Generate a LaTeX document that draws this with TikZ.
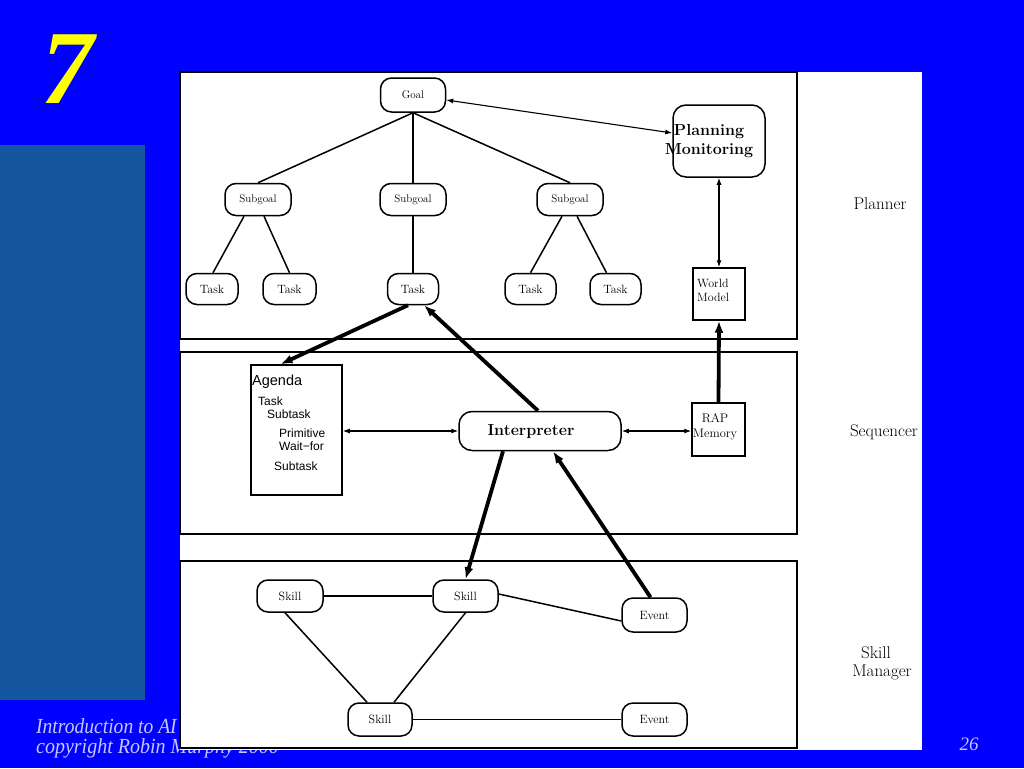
\documentclass[tikz,border=0pt]{standalone}
\usepackage{fontspec}
\newfontfamily\sansf{Liberation Sans}
\newfontfamily\timesf{Liberation Serif}
\usetikzlibrary{arrows.meta,calc}
\definecolor{bgblue}{HTML}{0000FF}
\definecolor{sideblue}{HTML}{1456A0}
\definecolor{footc}{HTML}{C6C6FF}
\definecolor{sevenc}{HTML}{FFFF00}
\newcommand{\fs}[1]{\fontsize{#1}{#1}\selectfont}
\begin{document}
\begin{tikzpicture}[x=1pt,y=-1pt,
  rbox/.style={draw, line width=1.5pt, rounded corners=11pt, fill=white, inner sep=0pt},
  sbox/.style={draw, line width=1.5pt, fill=white, inner sep=0pt},
  panelline/.style={draw, line width=1.3pt},
  tl/.style={line width=1.5pt},
  dbl/.style={line width=1.1pt, {Latex[length=7pt,width=5pt]}-{Latex[length=7pt,width=5pt]}},
  fat/.style={line width=3.8pt, -{Latex[length=12pt,width=9pt]}},
  small/.style={font=\fs{11}},
  med/.style={font=\fs{12}},
  big/.style={font=\fs{17}},
  bigb/.style={font=\fs{16}\bfseries},
  agt/.style={font=\sansf\fs{12}, anchor=base west, inner sep=0pt},
  foot/.style={font=\timesf\itshape\fs{21.5}, text=footc, anchor=base west, inner sep=0pt}
]
\useasboundingbox (0,0) rectangle (1024,768);
\fill[bgblue] (0,0) rectangle (1024,768);
\fill[sideblue] (0,145) rectangle (145,700);
\node[font=\timesf\bfseries\itshape\fs{105}, text=sevenc, inner sep=0pt] (seven) at (68,69) {7};
\node[foot] (foot1) at (36,733) {\scalebox{0.91}[1]{Introduction to AI Robotics}};
\node[foot] (foot2) at (36,753) {\scalebox{0.93}[1]{copyright Robin Murphy 2000}};
\node[font=\timesf\itshape\fs{19}, text=footc, inner sep=0pt] (pg) at (969,744) {26};
% white picture area
\fill[white] (180,72) rectangle (922,750);
\draw[panelline] (180,72) rectangle (797,339);
\draw[panelline] (180,352) rectangle (797,534);
\draw[panelline] (180,561) rectangle (797,748);
% planner
\node[rbox, small, minimum width=65pt, minimum height=34pt] (goal) at (413,95) {Goal};
\node[rbox, rounded corners=13pt, minimum width=92pt, minimum height=72pt] (plan) at (719,141) {};
\node[bigb, align=center, inner sep=0pt] (plantext) at (709,141.5) {Planning\\[3pt]Monitoring};
\node[rbox, small, minimum width=66pt, minimum height=32pt] (sg1) at (258,199.5) {Subgoal};
\node[rbox, small, minimum width=66pt, minimum height=32pt] (sg2) at (413,199.5) {Subgoal};
\node[rbox, small, minimum width=66pt, minimum height=32pt] (sg3) at (570,199.5) {Subgoal};
\node[rbox, med, minimum width=52pt, minimum height=31pt] (t1) at (212,289) {Task};
\node[rbox, med, minimum width=53pt, minimum height=31pt] (t2) at (289.5,289) {Task};
\node[rbox, med, minimum width=51pt, minimum height=31pt] (t3) at (413,289) {Task};
\node[rbox, med, minimum width=51pt, minimum height=31pt] (t4) at (530.5,289) {Task};
\node[rbox, med, minimum width=51pt, minimum height=31pt] (t5) at (615.5,289) {Task};
\node[sbox, minimum width=52pt, minimum height=52pt] (wm) at (719,294) {};
\node[med, align=left, anchor=west, inner sep=0pt] (wmtext) at (697,290.5) {World\\[2pt]Model};
\node[big, inner sep=0pt] (lplanner) at (880,204) {Planner};
% sequencer
\node[sbox, minimum width=91pt, minimum height=130pt] (agenda) at (296.5,430) {};
\node[agt, font=\sansf\fs{14.5}] (ag0) at (252,385) {Agenda};
\node[agt] (ag1) at (258,405) {Task};
\node[agt] (ag2) at (267,418) {Subtask};
\node[agt] (ag3) at (279,437) {Primitive};
\node[agt] (ag4) at (279,450) {Wait−for};
\node[agt] (ag5) at (274,470) {Subtask};
\node[rbox, rounded corners=13pt, minimum width=162pt, minimum height=39pt] (interp) at (540,431) {};
\node[bigb, inner sep=0pt] (interptext) at (531,432) {Interpreter};
\node[sbox, minimum width=53pt, minimum height=53pt] (rap) at (718.5,429.5) {};
\node[font=\fs{12.5}, align=center, inner sep=0pt] (raptext) at (715,427) {RAP\\[2pt]Memory};
\node[big, inner sep=0pt] (lseq) at (884,432) {Sequencer};
% skill manager
\node[rbox, med, minimum width=66pt, minimum height=32pt] (sk1) at (290,596) {Skill};
\node[rbox, med, minimum width=65pt, minimum height=32pt] (sk2) at (465.5,596) {Skill};
\node[rbox, med, minimum width=65pt, minimum height=34pt] (ev1) at (654.5,615) {Event};
\node[rbox, med, minimum width=64pt, minimum height=33pt] (sk3) at (380,719.5) {Skill};
\node[rbox, med, minimum width=65pt, minimum height=33pt] (ev2) at (654.5,719.5) {Event};
\node[big, inner sep=0pt] (lsk1) at (876,653) {Skill};
\node[big, inner sep=0pt] (lsk2) at (882,672) {Manager};
% planner connectors
\draw[tl] (goal.south) -- (sg1.north);
\draw[tl] (goal.south) -- (sg2.north);
\draw[tl] (goal.south) -- (sg3.north);
\draw[tl] ([xshift=-14pt]sg1.south) -- ([xshift=1pt]t1.north);
\draw[tl] ([xshift=6pt]sg1.south) -- (t2.north);
\draw[tl] (sg2.south) -- (t3.north);
\draw[tl] ([xshift=-8pt]sg3.south) -- (t4.north);
\draw[tl] ([xshift=7pt]sg3.south) -- ([xshift=-9pt]t5.north);
\draw[dbl] ([yshift=-5pt]goal.east) -- ([yshift=8pt]plan.west);
\draw[dbl] (plan.south) -- (wm.north);
% sequencer connectors
\draw[dbl] (agenda.east |- interp.west) -- (interp.west);
\draw[dbl] (interp.east) -- (rap.west |- interp.east);
\draw[fat] (rap.north) -- (wm.south);
\draw[fat] ([xshift=-5pt]t3.south) -- ([xshift=-16pt]agenda.north);
\draw[fat] ([xshift=-2pt]interp.north) -- ([xshift=11pt]t3.south);
\draw[fat] ([xshift=-37pt]interp.south) -- (sk2.north);
\draw[fat] ([xshift=-4pt]ev1.north) -- ([xshift=13pt]interp.south);
% skill connectors
\draw[tl] (sk1.east) -- (sk2.west);
\draw[tl] ([yshift=2pt]sk2.east) -- ([yshift=-6pt]ev1.west);
\draw[tl] ([xshift=-5pt]sk1.south) -- ([xshift=-13pt]sk3.north);
\draw[tl] (sk2.south) -- ([xshift=14pt]sk3.north);
\draw[tl] (sk3.east) -- (ev2.west);
\end{tikzpicture}
\end{document}
